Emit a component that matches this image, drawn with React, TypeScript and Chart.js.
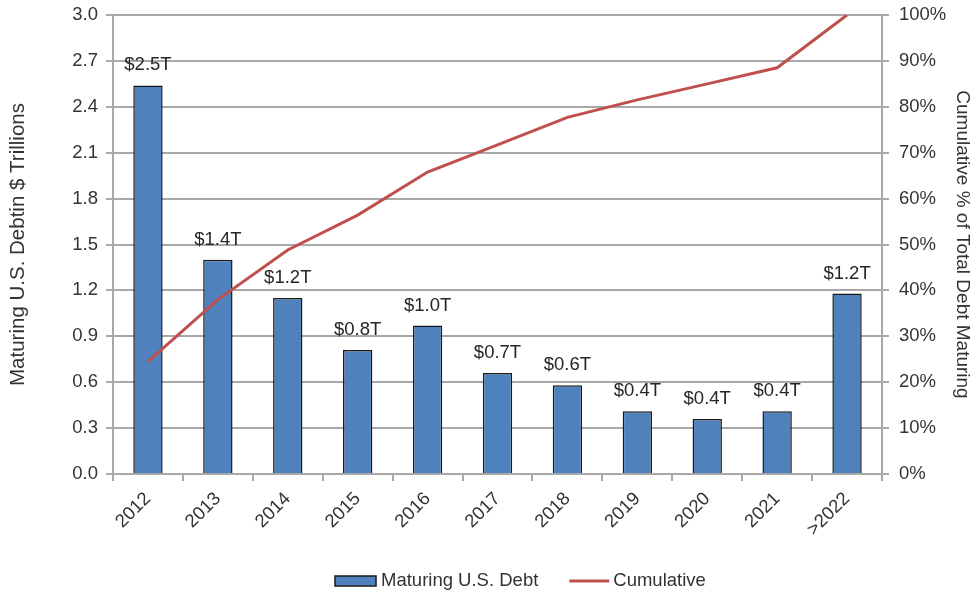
import React, { useEffect, useRef } from "react";
import { Chart, registerables } from "chart.js";

Chart.register(...registerables);

const categories = ["2012", "2013", "2014", "2015", "2016", "2017", "2018", "2019", "2020", "2021", ">2022"];
const maturingDebt = [2.54, 1.4, 1.15, 0.81, 0.97, 0.66, 0.58, 0.41, 0.36, 0.41, 1.18];
const debtLabels = ["$2.5T", "$1.4T", "$1.2T", "$0.8T", "$1.0T", "$0.7T", "$0.6T", "$0.4T", "$0.4T", "$0.4T", "$1.2T"];
const cumulativePct = [24.5, 38.0, 48.8, 56.4, 65.8, 71.7, 77.7, 81.5, 85.0, 88.5, 100];

const FONT = "'Liberation Sans', Arial, sans-serif";
const FS = 18.5;
const TEXT = "#333333";
const GRID = "#a8a8a8";
const BAR = "#4F81BD";
const LINE = "#C0504D";

const labelPlugin = {
  id: "barLabels",
  afterDatasetsDraw(chart: any) {
    const meta = chart.getDatasetMeta(0);
    const ctx = chart.ctx;
    ctx.save();
    ctx.font = `${FS}px ${FONT}`;
    ctx.fillStyle = "#262626";
    ctx.textAlign = "center";
    ctx.textBaseline = "middle";
    meta.data.forEach((el: any, i: number) => {
      ctx.fillText(debtLabels[i], el.x, el.y - 20);
    });
    ctx.restore();
  },
};

const legendPlugin = {
  id: "customLegend",
  afterDraw(chart: any) {
    const ctx = chart.ctx;
    ctx.save();
    ctx.font = `${FS}px ${FONT}`;
    ctx.textBaseline = "middle";
    ctx.textAlign = "left";
    const y = 581;
    let x = 335;
    ctx.fillStyle = BAR;
    ctx.fillRect(x, y - 5, 41, 10);
    ctx.strokeStyle = "#1a1a1a";
    ctx.lineWidth = 1.5;
    ctx.strokeRect(x, y - 5, 41, 10);
    x += 46;
    ctx.fillStyle = TEXT;
    ctx.fillText("Maturing U.S. Debt", x, y);
    x += ctx.measureText("Maturing U.S. Debt").width + 31;
    ctx.strokeStyle = LINE;
    ctx.lineWidth = 3;
    ctx.beginPath();
    ctx.moveTo(x, y);
    ctx.lineTo(x + 40, y);
    ctx.stroke();
    x += 44;
    ctx.fillText("Cumulative", x, y);
    ctx.restore();
  },
};

export default function App() {
  const ref = useRef<HTMLCanvasElement | null>(null);

  useEffect(() => {
    document.body.style.margin = "0";
    if (!ref.current) return;
    const chart = new Chart(ref.current, {
      type: "bar",
      data: {
        labels: categories,
        datasets: [
          {
            type: "bar",
            label: "Maturing U.S. Debt",
            data: maturingDebt,
            backgroundColor: BAR,
            borderColor: "#1a1a1a",
            borderWidth: 1.5,
            barPercentage: 0.42,
            categoryPercentage: 1,
            yAxisID: "y",
            order: 1,
          },
          {
            type: "line",
            label: "Cumulative",
            data: cumulativePct,
            borderColor: LINE,
            backgroundColor: LINE,
            borderWidth: 3,
            pointRadius: 0,
            tension: 0,
            yAxisID: "y1",
            order: 0,
          } as any,
        ],
      },
      options: {
        animation: false,
        responsive: false,
        layout: { padding: { top: 15, left: 0, right: 0, bottom: 0 } },
        plugins: {
          legend: { display: false },
          tooltip: { enabled: false },
        },
        scales: {
          x: {
            grid: {
              display: true,
              drawOnChartArea: false,
              color: GRID,
              lineWidth: 2,
              tickLength: 7,
              offset: true,
            },
            border: { color: GRID, width: 2 },
            ticks: {
              color: TEXT,
              font: { family: FONT, size: FS },
              minRotation: 45,
              maxRotation: 45,
              padding: 7,
            },
            afterFit(scale: any) {
              scale.height = 119;
              scale.paddingLeft = 0;
              scale.paddingRight = 0;
            },
          },
          y: {
            position: "left",
            min: 0,
            max: 3,
            ticks: {
              stepSize: 0.3,
              color: TEXT,
              font: { family: FONT, size: FS },
              padding: 8,
              callback: (v: any) => Number(v).toFixed(1),
            },
            grid: { color: GRID, lineWidth: 2, tickLength: 7 },
            border: { color: GRID, width: 2 },
            title: {
              display: true,
              text: "Maturing U.S. Debtin $ Trillions",
              color: TEXT,
              font: { family: FONT, size: 20.5 },
              padding: { top: 6, bottom: 0 },
            },
            afterFit(scale: any) {
              scale.width = 113;
              scale.paddingTop = 0;
              scale.paddingBottom = 0;
            },
          },
          y1: {
            position: "right",
            min: 0,
            max: 100,
            ticks: {
              stepSize: 10,
              color: TEXT,
              font: { family: FONT, size: FS },
              padding: 10,
              callback: (v: any) => `${Math.round(Number(v))}%`,
            },
            grid: { drawOnChartArea: false, color: GRID, lineWidth: 2, tickLength: 7 },
            border: { color: GRID, width: 2 },
            title: {
              display: true,
              text: "Cumulative % of Total Debt Maturing",
              color: TEXT,
              font: { family: FONT, size: 19 },
              padding: { top: 3, bottom: 0 },
            },
            afterFit(scale: any) {
              scale.width = 95;
              scale.paddingTop = 0;
              scale.paddingBottom = 0;
            },
          },
        },
      },
      plugins: [labelPlugin, legendPlugin],
    });
    return () => chart.destroy();
  }, []);

  return (
    <div style={{ width: 977, height: 593, background: "#fff" }}>
      <canvas ref={ref} width={977} height={593} style={{ display: "block" }} />
    </div>
  );
}
